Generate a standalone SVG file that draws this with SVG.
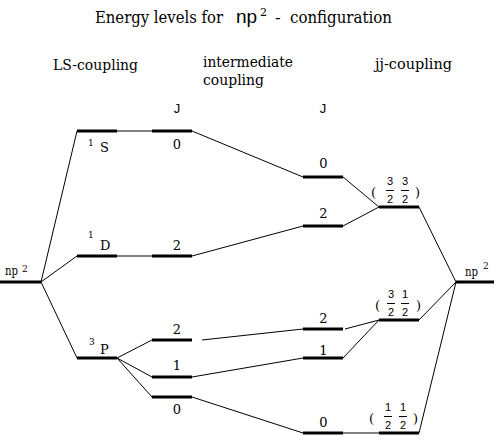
<svg xmlns="http://www.w3.org/2000/svg" width="502" height="440" viewBox="0 0 502 440">
<style>
.lvl{stroke:#000;stroke-width:3;fill:none}
.ln{stroke:#000;stroke-width:1;fill:none}
text{fill:#000}
.t{font-family:'DejaVu Serif','Liberation Serif',serif}
.s{font-family:'Liberation Sans',Arial,sans-serif}
.hd{font-size:15px}
.lb{font-size:13px}
.sup{font-size:9px}
.fr{font-size:11px;text-anchor:middle}
.num{font-size:13px;text-anchor:middle}
.par{font-size:13px}
</style>
<rect width="502" height="440" fill="#fff"/>
<g id="title">
<text class="t" x="95" y="23" font-size="16.5" textLength="128" lengthAdjust="spacingAndGlyphs">Energy levels for</text>
<text class="s" x="236" y="23" font-size="19">np</text>
<text class="t" x="260" y="16" font-size="11">2</text>
<text class="t" x="275" y="23" font-size="17">-</text>
<text class="t" x="290" y="23" font-size="16.5" textLength="102" lengthAdjust="spacingAndGlyphs">configuration</text>
</g>
<g id="headers">
<text class="t hd" x="53" y="70" textLength="85" lengthAdjust="spacingAndGlyphs">LS-coupling</text>
<text class="t hd" x="203" y="67" textLength="90" lengthAdjust="spacingAndGlyphs">intermediate</text>
<text class="t hd" x="203" y="85" textLength="61" lengthAdjust="spacingAndGlyphs">coupling</text>
<text class="t hd" x="375" y="69" textLength="77" lengthAdjust="spacingAndGlyphs">jj-coupling</text>
<text class="s" x="177" y="113" font-size="13" text-anchor="middle">J</text>
<text class="s" x="323" y="113" font-size="13" text-anchor="middle">J</text>
</g>
<g id="connectors">
<line class="ln" x1="41" y1="282" x2="77" y2="131"/>
<line class="ln" x1="41" y1="282" x2="77" y2="256"/>
<line class="ln" x1="41" y1="282" x2="77" y2="358"/>
<line class="ln" x1="117" y1="131" x2="152" y2="131"/>
<line class="ln" x1="117" y1="256" x2="152" y2="256"/>
<line class="ln" x1="117" y1="358" x2="152" y2="340"/>
<line class="ln" x1="117" y1="358" x2="152" y2="377"/>
<line class="ln" x1="117" y1="358" x2="152" y2="397"/>
<line class="ln" x1="192" y1="131" x2="303" y2="177"/>
<line class="ln" x1="192" y1="256" x2="303" y2="226"/>
<line class="ln" x1="202" y1="340" x2="303" y2="329"/>
<line class="ln" x1="192" y1="377" x2="303" y2="358"/>
<line class="ln" x1="192" y1="397" x2="303" y2="433"/>
<line class="ln" x1="343" y1="177" x2="379" y2="207"/>
<line class="ln" x1="343" y1="226" x2="379" y2="207"/>
<line class="ln" x1="345" y1="329" x2="379" y2="320"/>
<line class="ln" x1="343" y1="358" x2="379" y2="320"/>
<line class="ln" x1="343" y1="433" x2="379" y2="433"/>
<line class="ln" x1="419" y1="207" x2="456" y2="282"/>
<line class="ln" x1="419" y1="320" x2="456" y2="282"/>
<line class="ln" x1="419" y1="433" x2="456" y2="282"/>
</g>
<g id="np-left">
<line class="lvl" x1="0" y1="282" x2="41" y2="282"/>
<text class="t" x="5" y="275" font-size="12" textLength="13" lengthAdjust="spacingAndGlyphs">np</text>
<text class="t sup" x="22" y="272">2</text>
</g>
<g id="ls-1S">
<line class="lvl" x1="77" y1="131" x2="117" y2="131"/>
<text class="t sup" x="88" y="146">1</text>
<text class="t lb" x="100" y="152">S</text>
</g>
<g id="ls-1S0">
<line class="lvl" x1="152" y1="131" x2="192" y2="131"/>
<text class="t num" x="177" y="149">0</text>
</g>
<g id="ls-1D">
<line class="lvl" x1="77" y1="256" x2="117" y2="256"/>
<text class="t sup" x="88" y="238">1</text>
<text class="t lb" x="100" y="250">D</text>
</g>
<g id="ls-1D2">
<line class="lvl" x1="152" y1="256" x2="192" y2="256"/>
<text class="t num" x="177" y="250">2</text>
</g>
<g id="ls-3P">
<line class="lvl" x1="77" y1="358" x2="117" y2="358"/>
<text class="t sup" x="89" y="345">3</text>
<text class="t lb" x="100" y="354">P</text>
</g>
<g id="ls-3P2">
<line class="lvl" x1="152" y1="340" x2="192" y2="340"/>
<text class="t num" x="177" y="334">2</text>
</g>
<g id="ls-3P1">
<line class="lvl" x1="152" y1="377" x2="192" y2="377"/>
<text class="t num" x="177" y="370">1</text>
</g>
<g id="ls-3P0">
<line class="lvl" x1="152" y1="397" x2="192" y2="397"/>
<text class="t num" x="177" y="414">0</text>
</g>
<g id="int-0a">
<line class="lvl" x1="303" y1="177" x2="343" y2="177"/>
<text class="t num" x="323.5" y="168">0</text>
</g>
<g id="int-2a">
<line class="lvl" x1="303" y1="226" x2="343" y2="226"/>
<text class="t num" x="323.5" y="218">2</text>
</g>
<g id="int-2b">
<line class="lvl" x1="303" y1="329" x2="343" y2="329"/>
<text class="t num" x="323.5" y="323">2</text>
</g>
<g id="int-1">
<line class="lvl" x1="303" y1="358" x2="343" y2="358"/>
<text class="t num" x="323.5" y="355">1</text>
</g>
<g id="int-0b">
<line class="lvl" x1="303" y1="433" x2="343" y2="433"/>
<text class="t num" x="323.5" y="427">0</text>
</g>
<g id="jj-33">
<line class="lvl" x1="379" y1="207" x2="419" y2="207"/>
<text class="t par" x="371" y="197">(</text>
<text class="s fr" x="390" y="185">3</text>
<line class="ln" x1="386" y1="190.5" x2="394" y2="190.5"/>
<text class="s fr" x="390" y="203">2</text>
<text class="s fr" x="405" y="185">3</text>
<line class="ln" x1="401" y1="190.5" x2="409" y2="190.5"/>
<text class="s fr" x="405" y="203">2</text>
<text class="t par" x="415" y="197">)</text>
</g>
<g id="jj-31">
<line class="lvl" x1="379" y1="320" x2="419" y2="320"/>
<text class="t par" x="375" y="310">(</text>
<text class="s fr" x="391" y="298">3</text>
<line class="ln" x1="387" y1="303.5" x2="395" y2="303.5"/>
<text class="s fr" x="391" y="316">2</text>
<text class="s fr" x="405" y="298">1</text>
<line class="ln" x1="401" y1="303.5" x2="409" y2="303.5"/>
<text class="s fr" x="405" y="316">2</text>
<text class="t par" x="416" y="310">)</text>
</g>
<g id="jj-11">
<line class="lvl" x1="379" y1="433" x2="419" y2="433"/>
<text class="t par" x="369" y="423">(</text>
<text class="s fr" x="388" y="411">1</text>
<line class="ln" x1="384" y1="416.5" x2="392" y2="416.5"/>
<text class="s fr" x="388" y="429">2</text>
<text class="s fr" x="403" y="411">1</text>
<line class="ln" x1="399" y1="416.5" x2="407" y2="416.5"/>
<text class="s fr" x="403" y="429">2</text>
<text class="t par" x="413" y="423">)</text>
</g>
<g id="np-right">
<line class="lvl" x1="456" y1="282" x2="494" y2="282"/>
<text class="t" x="465" y="276" font-size="12" textLength="13" lengthAdjust="spacingAndGlyphs">np</text>
<text class="t sup" x="483" y="269">2</text>
</g>
</svg>
